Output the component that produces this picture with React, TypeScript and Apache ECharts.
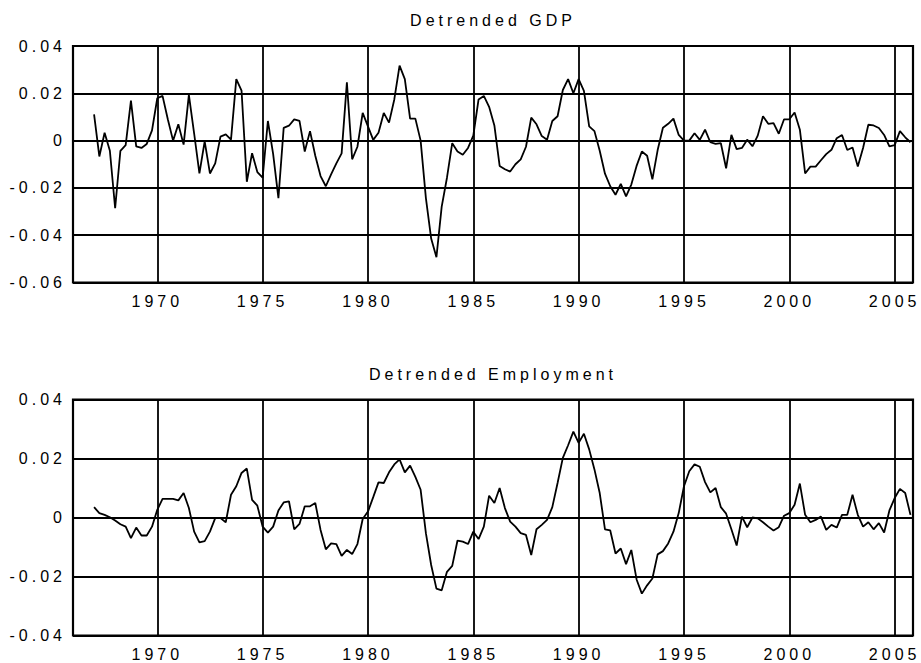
import React, { useEffect, useRef } from "react";
import * as echarts from "echarts";

const startYear = 1967; // first quarter 1967Q1, quarterly observations
const gridYears = [1970, 1975, 1980, 1985, 1990, 1995, 2000, 2005];
const gdpTitle = "Detrended GDP";
const empTitle = "Detrended Employment";

const gdp = [
  0.0111, -0.0067, 0.0033, -0.0043, -0.0286, -0.0043, -0.0019, 0.0169,
  -0.0024, -0.0031, -0.0014, 0.0043, 0.0179, 0.0189, 0.009, 0.0,
  0.0069, -0.0017, 0.0193, 0.003, -0.0139, -0.0003, -0.0139, -0.0096,
  0.0017, 0.0026, 0.0004, 0.026, 0.0211, -0.0174, -0.0053, -0.0133,
  -0.0157, 0.0083, -0.0057, -0.0243, 0.0054, 0.0063, 0.009, 0.0083,
  -0.0046, 0.004, -0.0064, -0.015, -0.0193, -0.0143, -0.0096, -0.0054,
  0.0246, -0.0079, -0.0026, 0.0117, 0.006, 0.0003, 0.0033, 0.0117,
  0.0076, 0.0174, 0.0317, 0.026, 0.0093, 0.0093, 0.0, -0.0243,
  -0.0414, -0.0493, -0.0279, -0.0157, -0.0011, -0.0046, -0.006, -0.0031,
  0.0021, 0.0174, 0.0189, 0.0143, 0.0064, -0.0107, -0.0121, -0.0131,
  -0.01, -0.0079, -0.0026, 0.0097, 0.0069, 0.0019, 0.0004, 0.0083,
  0.0103, 0.0214, 0.026, 0.02, 0.026, 0.021, 0.006, 0.004,
  -0.0043, -0.014, -0.0193, -0.0229, -0.0183, -0.0236, -0.0186, -0.0107,
  -0.0046, -0.0064, -0.0164, -0.004, 0.0054, 0.0071, 0.0093, 0.0024,
  0.0, 0.0, 0.0031, 0.0003, 0.0046, -0.0007, -0.0014, -0.0011,
  -0.0117, 0.0024, -0.0036, -0.0031, 0.0004, -0.0024, 0.0021, 0.0103,
  0.0071, 0.0074, 0.0029, 0.009, 0.009, 0.0119, 0.0046, -0.0139,
  -0.011, -0.011, -0.0083, -0.0057, -0.0039, 0.001, 0.0024, -0.004,
  -0.0029, -0.011, -0.0031, 0.0067, 0.0064, 0.0053, 0.0024, -0.0024,
  -0.0019, 0.004, 0.0014, -0.0007,
];

const employment = [
  0.0035, 0.0015, 0.0009, 0.0001, -0.001, -0.0023, -0.0031, -0.007,
  -0.0034, -0.0061, -0.0061, -0.0031, 0.0026, 0.0063, 0.0063, 0.0063,
  0.0058, 0.0083, 0.0032, -0.0048, -0.0084, -0.008, -0.0048, -0.0002,
  -0.0002, -0.0016, 0.0077, 0.0106, 0.0151, 0.0166, 0.006, 0.004,
  -0.0031, -0.0051, -0.0031, 0.0024, 0.0051, 0.0055, -0.004, -0.0022,
  0.0038, 0.0038, 0.0049, -0.0042, -0.0108, -0.0088, -0.009, -0.013,
  -0.011, -0.0124, -0.009, -0.0005, 0.002, 0.0069, 0.0119, 0.0117,
  0.0153, 0.018, 0.0197, 0.0153, 0.0176, 0.0138, 0.0094, -0.0053,
  -0.0161, -0.0241, -0.0247, -0.0184, -0.0164, -0.0078, -0.0082, -0.009,
  -0.0048, -0.0073, -0.0031, 0.0074, 0.0049, 0.01, 0.0032, -0.0014,
  -0.0031, -0.0053, -0.0059, -0.0127, -0.004, -0.0025, -0.0008, 0.0035,
  0.0117, 0.0202, 0.0245, 0.0291, 0.0253, 0.0284, 0.0231, 0.0163,
  0.0083, -0.004, -0.0044, -0.0122, -0.0105, -0.0158, -0.011, -0.021,
  -0.0258, -0.023, -0.0207, -0.0125, -0.0114, -0.0088, -0.0048, 0.0015,
  0.0106, 0.0157, 0.018, 0.0172, 0.012, 0.0085, 0.01, 0.0035,
  0.0013, -0.004, -0.0095, 0.0003, -0.0033, 0.0, -0.0003, -0.0016,
  -0.0031, -0.0044, -0.0033, 0.0006, 0.0015, 0.0043, 0.0115, 0.0009,
  -0.0016, -0.0008, 0.0003, -0.0042, -0.0025, -0.0034, 0.0009, 0.0009,
  0.0077, 0.0009, -0.0031, -0.0016, -0.004, -0.0019, -0.0051, 0.0024,
  0.0066, 0.0097, 0.0083, 0.0009,
];

const FONT = "'Liberation Sans', Arial, Helvetica, sans-serif";

const toPairs = (vals: number[]) =>
  vals.map((v, i) => [startYear + i / 4, v]);

const yFmt = (v: number) => {
  if (Math.abs(v) < 1e-9) return "0";
  return v.toFixed(2);
};

const xFmt = (v: number) => {
  const r = Math.round(v);
  if (Math.abs(v - r) < 1e-6 && r % 5 === 0) return String(r);
  return "";
};

export default function App() {
  const ref = useRef<HTMLDivElement>(null);

  useEffect(() => {
    if (!ref.current) return;
    const chart = echarts.init(ref.current, undefined, { renderer: "svg" });

    const grids = [
      { left: 73, top: 46, width: 840, height: 236.5 },
      { left: 73, top: 399.5, width: 840, height: 236 },
    ];
    const yRanges = [
      [-0.06, 0.04],
      [-0.04, 0.04],
    ];

    const xAxes = grids.map((_, i) => ({
      type: "value",
      gridIndex: i,
      min: 1966,
      max: 2005.87,
      interval: 1,
      axisLine: { show: false },
      axisTick: { show: false },
      splitLine: { show: false },
      axisLabel: {
        formatter: xFmt,
        margin: 11,
        color: "#000",
        fontSize: 16,
        fontFamily: FONT,
      },
    }));

    const yAxes = grids.map((_, i) => ({
      type: "value",
      gridIndex: i,
      min: yRanges[i][0],
      max: yRanges[i][1],
      interval: 0.02,
      axisLine: { show: false },
      axisTick: { show: false },
      splitLine: { show: true, lineStyle: { color: "#000", width: 1.8 } },
      axisLabel: {
        formatter: yFmt,
        margin: 7,
        color: "#000",
        fontSize: 16,
        fontFamily: FONT,
      },
    }));

    const mkSeries = (vals: number[], idx: number) => ({
      type: "line",
      xAxisIndex: idx,
      yAxisIndex: idx,
      data: toPairs(vals),
      showSymbol: false,
      symbol: "none",
      lineStyle: { color: "#000", width: 1.8 },
      silent: true,
      markLine: {
        silent: true,
        symbol: ["none", "none"],
        label: { show: false },
        lineStyle: { color: "#000", width: 1.8, type: "solid" },
        emphasis: { disabled: true },
        data: gridYears.map((y) => ({ xAxis: y })),
      },
    });

    chart.setOption({
      animation: false,
      backgroundColor: "#fff",
      grid: grids.map((g) => ({
        ...g,
        show: true,
        borderColor: "#000",
        borderWidth: 2.2,
        backgroundColor: "transparent",
      })),
      xAxis: xAxes,
      yAxis: yAxes,
      series: [mkSeries(gdp, 0), mkSeries(employment, 1)],
      graphic: [
        {
          type: "text",
          x: 493,
          y: 20,
          style: {
            text: gdpTitle,
            align: "center",
            verticalAlign: "middle",
            font: `16px ${FONT}`,
            fill: "#000",
          },
        },
        {
          type: "text",
          x: 493,
          y: 374,
          style: {
            text: empTitle,
            align: "center",
            verticalAlign: "middle",
            font: `16px ${FONT}`,
            fill: "#000",
          },
        },
      ],
    });

    return () => chart.dispose();
  }, []);

  return (
    <>
      <style>{`.chart-host text { letter-spacing: 4px; }`}</style>
      <div
        ref={ref}
        className="chart-host"
        style={{
          position: "fixed",
          left: 0,
          top: 0,
          width: 921,
          height: 663,
          background: "#fff",
        }}
      />
    </>
  );
}
